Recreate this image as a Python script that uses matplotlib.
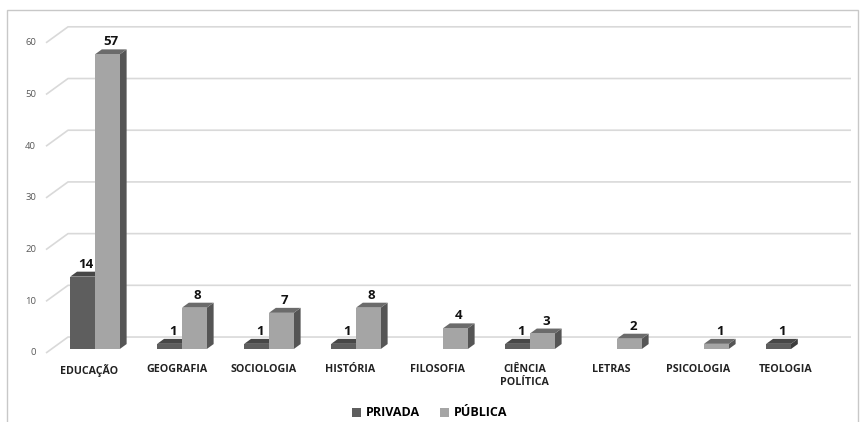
import matplotlib

matplotlib.use("Agg")
import matplotlib.pyplot as plt
from matplotlib.patches import Patch, Polygon, Rectangle

plt.rcParams["font.family"] = ["Open Sans", "DejaVu Sans"]

categories = ["EDUCAÇÃO", "GEOGRAFIA", "SOCIOLOGIA", "HISTÓRIA", "FILOSOFIA",
              "CIÊNCIA\nPOLÍTICA", "LETRAS", "PSICOLOGIA", "TEOLOGIA"]
privada = [14, 1, 1, 1, 0, 1, 0, 0, 1]
publica = [57, 8, 7, 8, 4, 3, 2, 1, 0]
yticks = [0, 10, 20, 30, 40, 50, 60]

# full floor depth in data units (front edge -> back wall)
DDX, DDY = 0.253, 3.09
BAR_FRONT, BAR_DEPTH = 0.25, 0.31
BAR_W = 0.285

STYLE = {
    "PRIVADA": dict(front="#5e5e5e", top="#474747", side="#3c3c3c"),
    "PÚBLICA": dict(front="#a5a5a5", top="#6b6b6b", side="#555555"),
}

fig = plt.figure(figsize=(8.6, 4.22), dpi=100)
ax = fig.add_axes([40 / 860, 62 / 422, 815 / 860, 340 / 422])
ax.set_xlim(-0.569, 8.799)
ax.set_ylim(-1.354, 64.41)
ax.axis("off")

# outer frame
fig.add_artist(Rectangle((7 / 860, -0.1), 851 / 860, 1.1 - 10 / 422,
                         transform=fig.transFigure, fill=False,
                         edgecolor="#c8c8c8", lw=1.0))

# floor diagonals + back-wall gridlines
for v in yticks:
    ax.plot([-0.5, -0.5 + DDX, 8.5 + DDX], [v, v + DDY, v + DDY],
            color="#d9d9d9", lw=1.2, zorder=1, solid_capstyle="butt")
    ax.annotate(str(v), (-0.5, v), xytext=(-10, 0), textcoords="offset pixels",
                ha="right", va="center", fontsize=6.8, color="#595959",
                annotation_clip=False)


def bar3d(x0, v, colors):
    fx, fy = BAR_FRONT * DDX, BAR_FRONT * DDY
    tx, ty = BAR_DEPTH * DDX, BAR_DEPTH * DDY
    xl, xr = x0 + fx, x0 + fx + BAR_W
    yb, yt = fy, fy + v
    side = [(xr, yb), (xr + tx, yb + ty), (xr + tx, yt + ty), (xr, yt)]
    top = [(xl, yt), (xr, yt), (xr + tx, yt + ty), (xl + tx, yt + ty)]
    ax.add_patch(Polygon(side, closed=True, facecolor=colors["side"],
                         edgecolor="none", zorder=3))
    ax.add_patch(Polygon(top, closed=True, facecolor=colors["top"],
                         edgecolor="none", zorder=3))
    ax.bar(xl, v, width=BAR_W, bottom=yb, align="edge",
           color=colors["front"], edgecolor="none", zorder=3)
    ax.annotate(str(v), ((xl + xr) / 2 + tx / 2, yt + ty), xytext=(0, 1),
                textcoords="offset pixels", ha="center", va="bottom",
                fontsize=9.5, fontweight="bold", color="#111111", zorder=4)


for i, name in enumerate(categories):
    if privada[i]:
        bar3d(i - BAR_W, privada[i], STYLE["PRIVADA"])
    if publica[i]:
        bar3d(i, publica[i], STYLE["PÚBLICA"])
    ax.text(i, -2.2, name, ha="center", va="top", fontsize=7.7,
            fontweight="bold", color="#222222", linespacing=1.25,
            clip_on=False)

handles = [Patch(facecolor=STYLE[k]["front"], edgecolor="none", label=k)
           for k in STYLE]
fig.legend(handles=handles, loc="center", bbox_to_anchor=(0.5, 9 / 422),
           ncol=2, frameon=False, handlelength=0.7, handleheight=0.7,
           handletextpad=0.4, columnspacing=1.6,
           prop={"weight": "bold", "size": 9})

fig.savefig("out.png", dpi=100)
